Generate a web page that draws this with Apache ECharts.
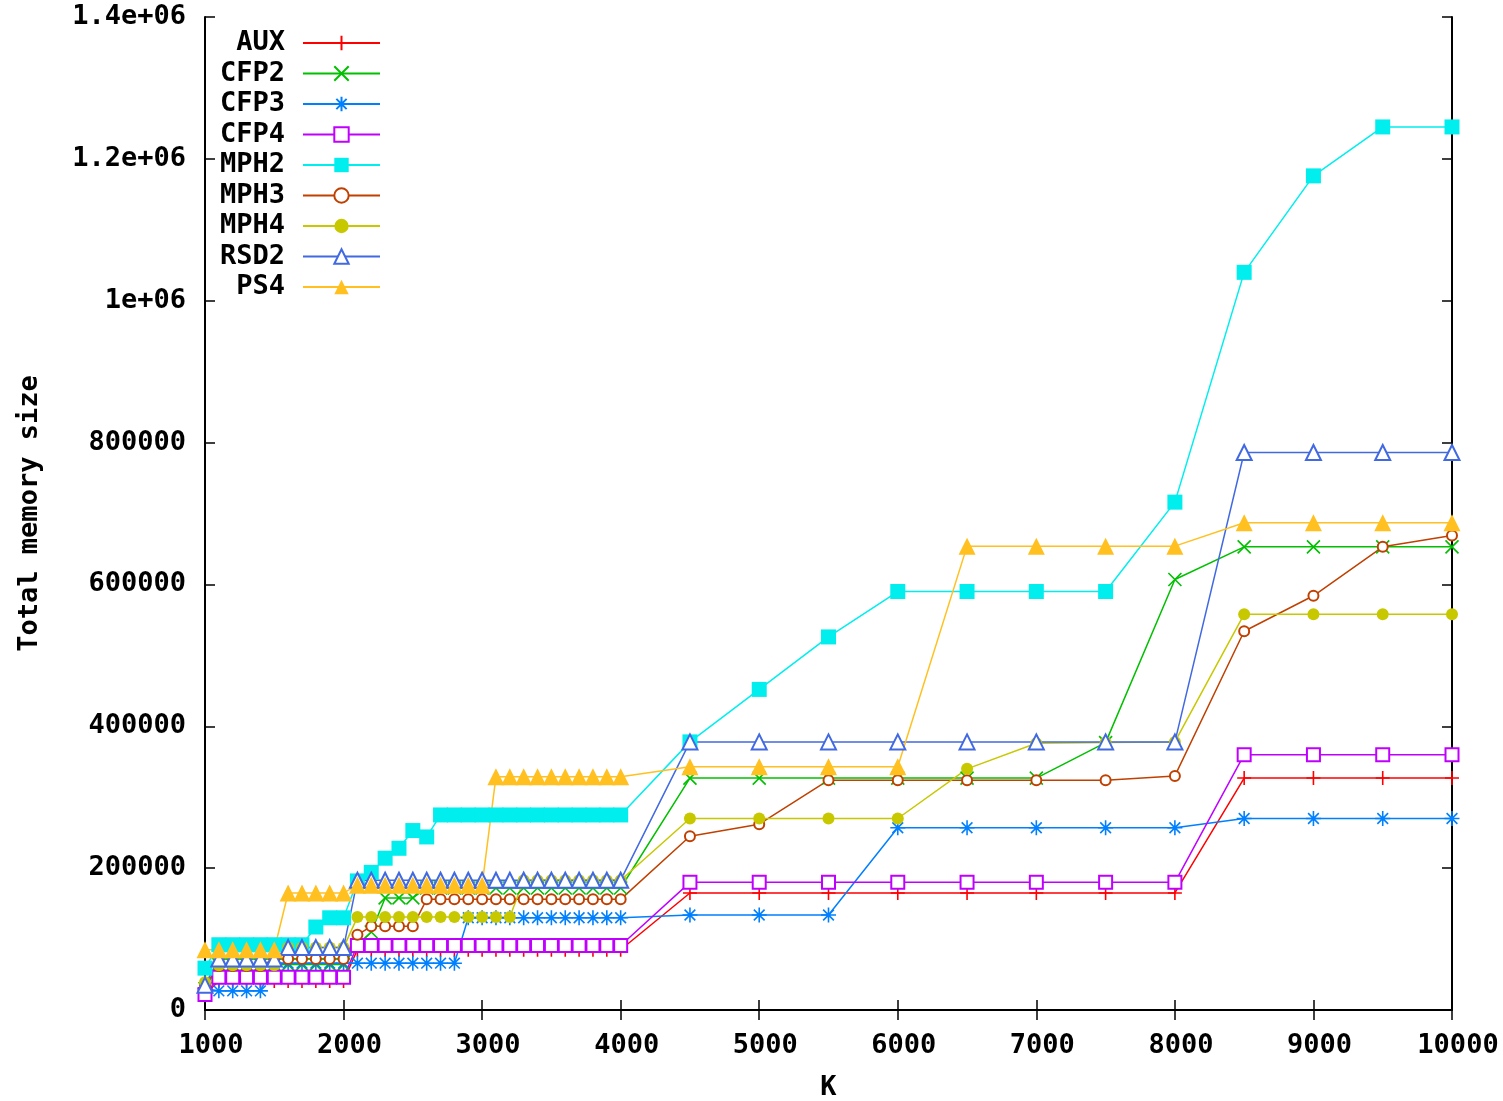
<!DOCTYPE html>
<html>
<head>
<meta charset="utf-8">
<title>Total memory size vs K</title>
<script src="https://cdn.jsdelivr.net/npm/echarts@6/dist/echarts.min.js"></script>
<style>
  html, body { margin: 0; padding: 0; background: #fff; }
  #chart { width: 1503px; height: 1101px; }
</style>
</head>
<body>
<div id="chart"></div>
<script>
// x positions (K)
const kValues = [
  1000, 1100, 1200, 1300, 1400, 1500, 1600, 1700, 1800, 1900, 2000,
  2100, 2200, 2300, 2400, 2500, 2600, 2700, 2800, 2900, 3000,
  3100, 3200, 3300, 3400, 3500, 3600, 3700, 3800, 3900, 4000,
  4500, 5000, 5500, 6000, 6500, 7000, 7500, 8000, 8500, 9000, 9500, 10000
];

const auxData = [
  22000, 41000, 41000, 41000, 41000, 41000, 41000, 41000, 41000, 41000, 41000,
  85000, 85000, 85000, 85000, 85000, 85000, 85000, 85000, 85000, 85000,
  85000, 85000, 85000, 85000, 85000, 85000, 85000, 85000, 85000, 85000,
  165000, 165000, 165000, 165000, 165000, 165000, 165000, 165000, 327000, 327000, 327000, 327000
];
const cfp2Data = [
  30000, 64000, 64000, 64000, 64000, 64000, 64000, 64000, 64000, 64000, 64000,
  92000, 110000, 158000, 158000, 158000, 172000, 172000, 172000, 172000, 172000,
  172000, 172000, 172000, 172000, 172000, 172000, 172000, 172000, 172000, 172000,
  327000, 327000, 327000, 327000, 327000, 327000, 377000, 607000, 653000, 653000, 653000, 653000
];
const cfp3Data = [
  30000, 27000, 27000, 27000, 27000, 66000, 66000, 66000, 66000, 66000, 66000,
  66000, 66000, 66000, 66000, 66000, 66000, 66000, 66000, 130000, 130000,
  130000, 130000, 130000, 130000, 130000, 130000, 130000, 130000, 130000, 130000,
  134000, 134000, 134000, 257000, 257000, 257000, 257000, 257000, 270000, 270000, 270000, 270000
];
const cfp4Data = [
  22000, 46000, 46000, 46000, 46000, 46000, 46000, 46000, 46000, 46000, 46000,
  91000, 91000, 91000, 91000, 91000, 91000, 91000, 91000, 91000, 91000,
  91000, 91000, 91000, 91000, 91000, 91000, 91000, 91000, 91000, 91000,
  180000, 180000, 180000, 180000, 180000, 180000, 180000, 180000, 360000, 360000, 360000, 360000
];
const mph2Data = [
  59000, 92000, 92000, 92000, 92000, 92000, 92000, 92000, 117000, 130000, 130000,
  182000, 194000, 214000, 228000, 253000, 244000, 275000, 275000, 275000, 275000,
  275000, 275000, 275000, 275000, 275000, 275000, 275000, 275000, 275000, 275000,
  378000, 452000, 526000, 590000, 590000, 590000, 590000, 716000, 1040000, 1176000, 1245000, 1245000
];
const mph3Data = [
  35000, 62000, 62000, 62000, 62000, 72000, 72000, 72000, 72000, 72000, 72000,
  106000, 118000, 118000, 118000, 118000, 156000, 156000, 156000, 156000, 156000,
  156000, 156000, 156000, 156000, 156000, 156000, 156000, 156000, 156000, 156000,
  245000, 262000, 324000, 324000, 324000, 324000, 324000, 330000, 534000, 584000, 653000, 669000
];
const mph4Data = [
  39000, 63000, 63000, 63000, 63000, 63000, 88000, 88000, 88000, 88000, 88000,
  131000, 131000, 131000, 131000, 131000, 131000, 131000, 131000, 131000, 131000,
  131000, 131000, 183000, 183000, 183000, 183000, 183000, 183000, 183000, 183000,
  270000, 270000, 270000, 270000, 340000, 376000, 377000, 378000, 558000, 558000, 558000, 558000
];
const rsd2Data = [
  35000, 72000, 72000, 72000, 72000, 72000, 88000, 88000, 88000, 88000, 88000,
  183000, 183000, 183000, 183000, 183000, 183000, 183000, 183000, 183000, 183000,
  183000, 183000, 183000, 183000, 183000, 183000, 183000, 183000, 183000, 183000,
  378000, 378000, 378000, 378000, 378000, 378000, 378000, 378000, 786000, 786000, 786000, 786000
];
const ps4Data = [
  85000, 85000, 85000, 85000, 85000, 85000, 165000, 165000, 165000, 165000, 165000,
  176000, 176000, 176000, 176000, 176000, 176000, 176000, 176000, 176000, 176000,
  329000, 329000, 329000, 329000, 329000, 329000, 329000, 329000, 329000, 329000,
  343000, 343000, 343000, 343000, 654000, 654000, 654000, 654000, 687000, 687000, 687000, 687000
];

const xTicks = ['1000', '2000', '3000', '4000', '5000', '6000', '7000', '8000', '9000', '10000'];
const yTicks = ['0', '200000', '400000', '600000', '800000', '1e+06', '1.2e+06', '1.4e+06'];

const PLUS = 'path://M0,7L14,7M7,0L7,14';
const CROSS = 'path://M0,0L14,14M14,0L0,14';
const STAR = 'path://M0,7L14,7M7,0L7,14M2,2L12,12M12,2L2,12';

const font = 'DejaVu Sans Mono';

function makeSeries(name, values, color, symbol, size, strokeOnly) {
  let itemStyle = { color: color };
  if (strokeOnly) {
    itemStyle = { color: color, borderColor: color, borderWidth: 1.6 };
  } else if (symbol.indexOf('empty') === 0) {
    itemStyle = { color: color, borderWidth: 2 };
  }
  return {
    name: name,
    type: 'line',
    data: kValues.map((k, i) => [k, values[i]]),
    symbol: symbol,
    symbolSize: size,
    showAllSymbol: true,
    lineStyle: { color: color, width: 1.5 },
    itemStyle: itemStyle,
    emphasis: { disabled: true },
    animation: false
  };
}

const chart = echarts.init(document.getElementById('chart'));

const tickStyle = { inside: true, length: 10, lineStyle: { color: '#000', width: 1.5 } };
const lineStyle = { show: true, lineStyle: { color: '#000', width: 2 } };
const labelStyle = { fontFamily: font, fontWeight: 'bold', fontSize: 27, color: '#000' };

chart.setOption({
  backgroundColor: '#fff',
  grid: { left: 205, right: 51, top: 17, bottom: 91, outerBoundsMode: 'none' },
  legend: {
    orient: 'vertical',
    left: 207,
    top: 28,
    padding: 0,
    itemGap: 0.5,
    itemWidth: 77,
    itemHeight: 18,
    align: 'right',
    textStyle: {
      fontFamily: font, fontWeight: 'bold', fontSize: 27, color: '#000',
      width: 78, align: 'right', lineHeight: 30, padding: [0, 13, 0, 0]
    },
    data: ['AUX', 'CFP2', 'CFP3', 'CFP4', 'MPH2', 'MPH3', 'MPH4', 'RSD2', 'PS4']
  },
  xAxis: [
    {
      type: 'value', min: 1000, max: 10000, interval: 1000,
      name: 'K', nameLocation: 'middle', nameGap: 64,
      nameTextStyle: labelStyle,
      axisLine: lineStyle, axisTick: tickStyle, splitLine: { show: false },
      axisLabel: Object.assign({
        margin: 22, padding: [0, 0, 0, 12],
        formatter: (v) => xTicks[Math.round(v / 1000) - 1]
      }, labelStyle)
    },
    {
      type: 'value', min: 1000, max: 10000, interval: 1000, position: 'top',
      axisLine: lineStyle, axisTick: tickStyle, splitLine: { show: false },
      axisLabel: { show: false }
    }
  ],
  yAxis: [
    {
      type: 'value', min: 0, max: 1400000, interval: 200000,
      name: 'Total memory size', nameLocation: 'middle', nameGap: 162,
      nameTextStyle: labelStyle,
      axisLine: lineStyle, axisTick: tickStyle, splitLine: { show: false },
      axisLabel: Object.assign({
        margin: 19,
        formatter: (v) => yTicks[Math.round(v / 200000)]
      }, labelStyle)
    },
    {
      type: 'value', min: 0, max: 1400000, interval: 200000, position: 'right',
      axisLine: lineStyle, axisTick: tickStyle, splitLine: { show: false },
      axisLabel: { show: false }
    }
  ],
  series: [
    makeSeries('AUX', auxData, '#ff0000', PLUS, 14, true),
    makeSeries('CFP2', cfp2Data, '#00c000', CROSS, 13, true),
    makeSeries('CFP3', cfp3Data, '#0080ff', STAR, 15, true),
    makeSeries('CFP4', cfp4Data, '#c000ff', 'emptyRect', 13, false),
    makeSeries('MPH2', mph2Data, '#00eeee', 'rect', 15, false),
    makeSeries('MPH3', mph3Data, '#c04000', 'emptyCircle', 10, false),
    makeSeries('MPH4', mph4Data, '#c8c800', 'circle', 12, false),
    makeSeries('RSD2', rsd2Data, '#4169e1', 'emptyTriangle', 15, false),
    makeSeries('PS4', ps4Data, '#ffc020', 'triangle', 17, false)
  ]
});
</script>
</body>
</html>
